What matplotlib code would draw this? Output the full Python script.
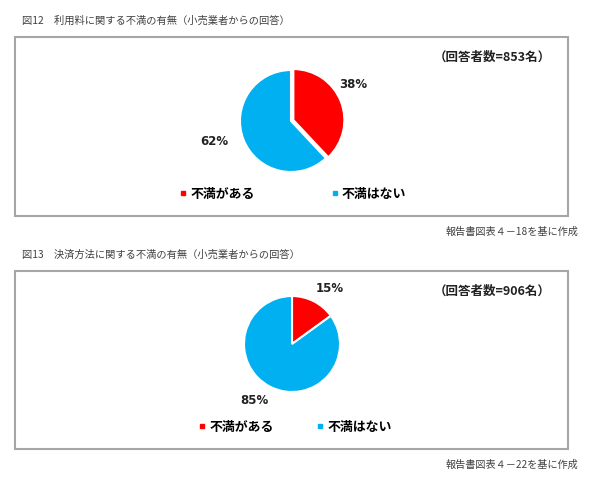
import numpy as np
import matplotlib.pyplot as plt
from matplotlib.patches import Rectangle
from matplotlib.lines import Line2D

plt.rcParams['font.family'] = ['Noto Sans CJK JP', 'DejaVu Sans']

W, H = 600, 484

# データ
categories = ['不満がある', '不満はない']
colors = ['#FF0000', '#00B0F0']
fee_values = [38, 62]
payment_values = [15, 85]
titles = ['図12　利用料に関する不満の有無（小売業者からの回答）',
          '図13　決済方法に関する不満の有無（小売業者からの回答）']
respondents = ['（回答者数=853名）', '（回答者数=906名）']
sources = ['報告書図表４－18を基に作成', '報告書図表４－22を基に作成']

PCT_FONT = ['Liberation Sans Narrow', 'DejaVu Sans Condensed', 'DejaVu Sans']


def fx(x):
    return x / W


def fy(y):
    return 1 - y / H


def draw_panel(fig, values, title, resp, source, top, bottom, cx, cy, r,
               explode, lab_dist, lab_shift, legend_x, col_space):
    fig.text(fx(22), fy(top - 16), title, fontsize=7.4, color='#404040', va='center')
    fig.patches.append(Rectangle((fx(15), fy(bottom)), fx(553), (bottom - top) / H,
                                 transform=fig.transFigure, fill=False,
                                 edgecolor='#A6A6A6', linewidth=1.5))
    ax = fig.add_axes([fx(cx - r), fy(cy + r), 2 * r / W, 2 * r / H])
    wedges, _ = ax.pie(values, colors=colors, startangle=90, counterclock=False,
                       explode=explode,
                       wedgeprops=dict(edgecolor='white', linewidth=1.5))
    ax.set_xlim(-1, 1)
    ax.set_ylim(-1, 1)
    ax.set_aspect('equal')
    for w, v, d, s in zip(wedges, values, lab_dist, lab_shift):
        ang = np.deg2rad((w.theta1 + w.theta2) / 2 + s)
        ax.text(d * np.cos(ang), d * np.sin(ang), f'{v}%', ha='center', va='center',
                fontsize=8.5, fontweight='bold', color='#222222', family=PCT_FONT,
                clip_on=False)
    fig.text(fx(492), fy(top + 20), resp, fontsize=9, fontweight='bold',
             ha='center', va='center', color='#222222')
    handles = [Line2D([], [], marker='s', linestyle='', color=c, markersize=3)
               for c in colors]
    fig.legend(handles, categories, loc='center left',
               bbox_to_anchor=(fx(legend_x), fy(bottom - 22)),
               ncol=2, frameon=False, borderpad=0, handlelength=0.6, handletextpad=0.25,
               columnspacing=col_space, prop=dict(size=9.3, weight='bold'))
    fig.text(fx(578), fy(bottom + 16), source, fontsize=7.3, color='#404040',
             ha='right', va='center')


def main():
    fig = plt.figure(figsize=(6, 4.84), dpi=100)
    draw_panel(fig, fee_values, titles[0], respondents[0], sources[0],
               37, 216, 291, 121, 51, [0.05, 0], [1.42, 1.56], [9, -7], 173, 5.9)
    draw_panel(fig, payment_values, titles[1], respondents[1], sources[1],
               271, 449, 292, 344, 48, [0, 0], [1.40, 1.42], [-7, -7], 192, 3.3)
    fig.savefig('out.png', dpi=100)


if __name__ == '__main__':
    main()
